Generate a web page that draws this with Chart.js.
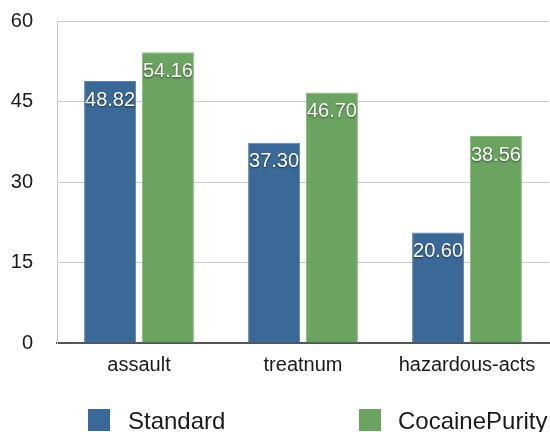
<!DOCTYPE html>
<html>
<head>
<meta charset="utf-8">
<script src="https://cdn.jsdelivr.net/npm/chart.js@4"></script>
<style>
  html, body { margin: 0; padding: 0; background: #fff; }
  #wrap { width: 550px; height: 432px; position: relative; }
</style>
</head>
<body>
<div id="wrap"><canvas id="c"></canvas></div>
<script>
const categories = ['assault', 'treatnum', 'hazardous-acts'];
const standardValues = [48.82, 37.30, 20.60];
const purityValues = [54.16, 46.70, 38.56];
const seriesNames = ['Standard', 'CocainePurity'];
const yTickValues = [0, 15, 30, 45, 60];

const FONT = '"Liberation Sans", Arial, Helvetica, sans-serif';
const BLUE = '#3b6997';
const GREEN = '#6aa460';

const valueLabels = {
  id: 'valueLabels',
  afterDatasetsDraw(chart) {
    const ctx = chart.ctx;
    ctx.save();
    ctx.font = '20px ' + FONT;
    ctx.textAlign = 'center';
    ctx.textBaseline = 'middle';
    ctx.fillStyle = '#ffffff';
    ctx.shadowColor = 'rgba(0,0,0,0.55)';
    ctx.shadowBlur = 2;
    ctx.shadowOffsetY = 1;
    chart.data.datasets.forEach((ds, di) => {
      const meta = chart.getDatasetMeta(di);
      meta.data.forEach((bar, i) => {
        ctx.fillText(ds.data[i].toFixed(2), bar.x, bar.y + 19);
      });
    });
    ctx.restore();
  }
};

const customLegend = {
  id: 'customLegend',
  afterDraw(chart) {
    const ctx = chart.ctx;
    const pos = [{ box: 88, text: 128 }, { box: 359, text: 398 }];
    ctx.save();
    ctx.font = '24px ' + FONT;
    ctx.textBaseline = 'alphabetic';
    ctx.textAlign = 'left';
    chart.data.datasets.forEach((ds, i) => {
      ctx.fillStyle = ds.backgroundColor;
      ctx.fillRect(pos[i].box, 409, 22, 22);
      ctx.fillStyle = '#1a1a1a';
      ctx.fillText(ds.label, pos[i].text, 429);
    });
    ctx.restore();
  }
};

new Chart(document.getElementById('c'), {
  type: 'bar',
  data: {
    labels: categories,
    datasets: [
      { label: seriesNames[0], data: standardValues, backgroundColor: BLUE, borderColor: '#5b86ae', borderWidth: 1 },
      { label: seriesNames[1], data: purityValues, backgroundColor: GREEN, borderColor: '#88ba7e', borderWidth: 1 }
    ]
  },
  options: {
    responsive: true,
    maintainAspectRatio: false,
    animation: false,
    categoryPercentage: 0.705,
    barPercentage: 0.9,
    layout: { padding: { top: 21, left: 0, right: 1, bottom: 45 } },
    plugins: {
      legend: { display: false },
      tooltip: { enabled: false }
    },
    scales: {
      x: {
        z: 1,
        grid: { display: false, drawTicks: false },
        border: { display: true, color: '#555555', width: 2 },
        ticks: { color: '#1a1a1a', font: { family: FONT, size: 20 }, padding: 10 }
      },
      y: {
        min: 0,
        max: 60,
        afterFit(scale) { scale.width = 57; scale.paddingTop = 0; scale.paddingBottom = 0; },
        afterBuildTicks(scale) { scale.ticks = yTickValues.map(v => ({ value: v })); },
        grid: { color: '#c9c9c9', lineWidth: 1, drawTicks: false },
        border: { display: true, color: '#c9c9c9', width: 1 },
        ticks: { color: '#1a1a1a', font: { family: FONT, size: 20 }, padding: 24 }
      }
    }
  },
  plugins: [valueLabels, customLegend]
});
</script>
</body>
</html>
